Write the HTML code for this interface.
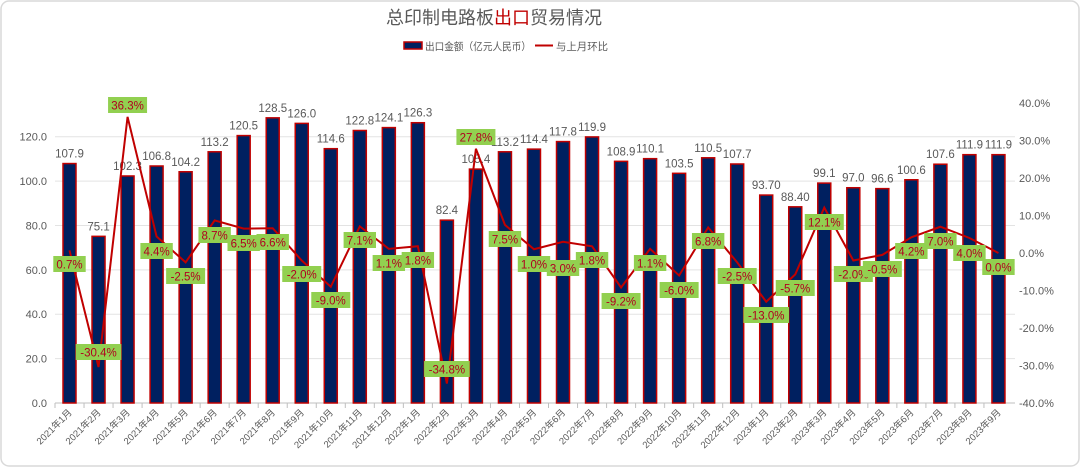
<!DOCTYPE html>
<html><head><meta charset="utf-8"><style>
html,body{margin:0;padding:0;background:#fff;}
svg{display:block;font-family:"Liberation Sans","Noto Sans CJK SC",sans-serif;}
</style></head><body>
<svg id="c" width="1080" height="467" xmlns="http://www.w3.org/2000/svg"></svg>
<script>
const vals=[107.9,75.1,102.3,106.8,104.2,113.2,120.5,128.5,126.0,114.6,122.8,124.1,126.3,82.4,105.4,113.2,114.4,117.8,119.9,108.9,110.1,103.5,110.5,107.7,93.70,88.40,99.1,97.0,96.6,100.6,107.6,111.9,111.9];
const vl=["107.9","75.1","102.3","106.8","104.2","113.2","120.5","128.5","126.0","114.6","122.8","124.1","126.3","82.4","105.4","113.2","114.4","117.8","119.9","108.9","110.1","103.5","110.5","107.7","93.70","88.40","99.1","97.0","96.6","100.6","107.6","111.9","111.9"];
const pct=[0.7,-30.4,36.3,4.4,-2.5,8.7,6.5,6.6,-2.0,-9.0,7.1,1.1,1.8,-34.8,27.8,7.5,1.0,3.0,1.8,-9.2,1.1,-6.0,6.8,-2.5,-13.0,-5.7,12.1,-2.0,-0.5,4.2,7.0,4.0,0.0];
const ly=[264,352,105,251,276,235,243,242,274,300,240,263,260,369,137,239,264,268,260,301,263,290,241,276,315,288,222,274,269,251,241,253,267];
let s='';
s+='<rect x="1" y="1" width="1078" height="465" rx="8" fill="#fff" stroke="#d9d9d9" stroke-width="1.5"/>';
s+='<text x="494" y="24" font-size="18" fill="#595959" text-anchor="middle">总印制电路板<tspan fill="#c00000">出口</tspan>贸易情况</text>';
s+='<rect x="404" y="42" width="18" height="7" fill="#002060" stroke="#c00000" stroke-width="1.5"/>';
s+='<text x="425" y="50" font-size="10.5" fill="#595959" textLength="106" lengthAdjust="spacingAndGlyphs">出口金额（亿元人民币）</text>';
s+='<line x1="535" y1="45.5" x2="553" y2="45.5" stroke="#c00000" stroke-width="2"/>';
s+='<text x="556" y="50" font-size="10.5" fill="#595959" textLength="52" lengthAdjust="spacingAndGlyphs">与上月环比</text>';
const y0=403,k=266.3/120;
for(let i=0;i<=6;i++){const y=y0-i*20*k;
 s+=`<line x1="55" y1="${y}" x2="1015" y2="${y}" stroke="${i==0?'#bfbfbf':'#e3e3e3'}" stroke-width="1"/>`;
 s+=`<text x="47" y="${y+4}" font-size="11" fill="#595959" text-anchor="end">${(i*20).toFixed(1)}</text>`;}
for(let i=-4;i<=4;i++){const y=253-i*37.5;
 s+=`<text x="1019" y="${y+4}" font-size="11" fill="#595959">${(i*10).toFixed(1)}%</text>`;}
const cx=i=>69.5+i*29.03;
let pts=[];
for(let i=0;i<33;i++){const x=cx(i),h=vals[i]*k;
 s+=`<rect x="${x-6.5}" y="${y0-h}" width="13" height="${h}" fill="#002060" stroke="#c00000" stroke-width="1.5"/>`;
 s+=`<text x="${x}" y="${y0-h-6}" font-size="11.5" fill="#595959" text-anchor="middle">${vl[i]}</text>`;
 s+=`<line x1="${x-14.5}" y1="403" x2="${x-14.5}" y2="408" stroke="#bfbfbf"/>`;
 const yr=2021+Math.floor(i/12),mo=i%12+1;
 s+=`<text transform="translate(${x+3},413) rotate(-45)" font-size="9.5" fill="#595959" text-anchor="end">${yr}年${mo}月</text>`;
 pts.push(x+','+(253-pct[i]*3.75));}
s+=`<polyline points="${pts.join(' ')}" fill="none" stroke="#c00000" stroke-width="2"/>`;
for(let i=0;i<33;i++){const x=cx(i);const t=pct[i].toFixed(1)+'%';const w=t.length*6.6+6;
 s+=`<rect x="${x-w/2}" y="${ly[i]-8}" width="${w}" height="16" fill="#92d050"/>`;
 s+=`<text x="${x}" y="${ly[i]+4.5}" font-size="11.5" fill="#b00020" text-anchor="middle">${t}</text>`;}
document.getElementById('c').innerHTML=s;
</script>
</body></html>
